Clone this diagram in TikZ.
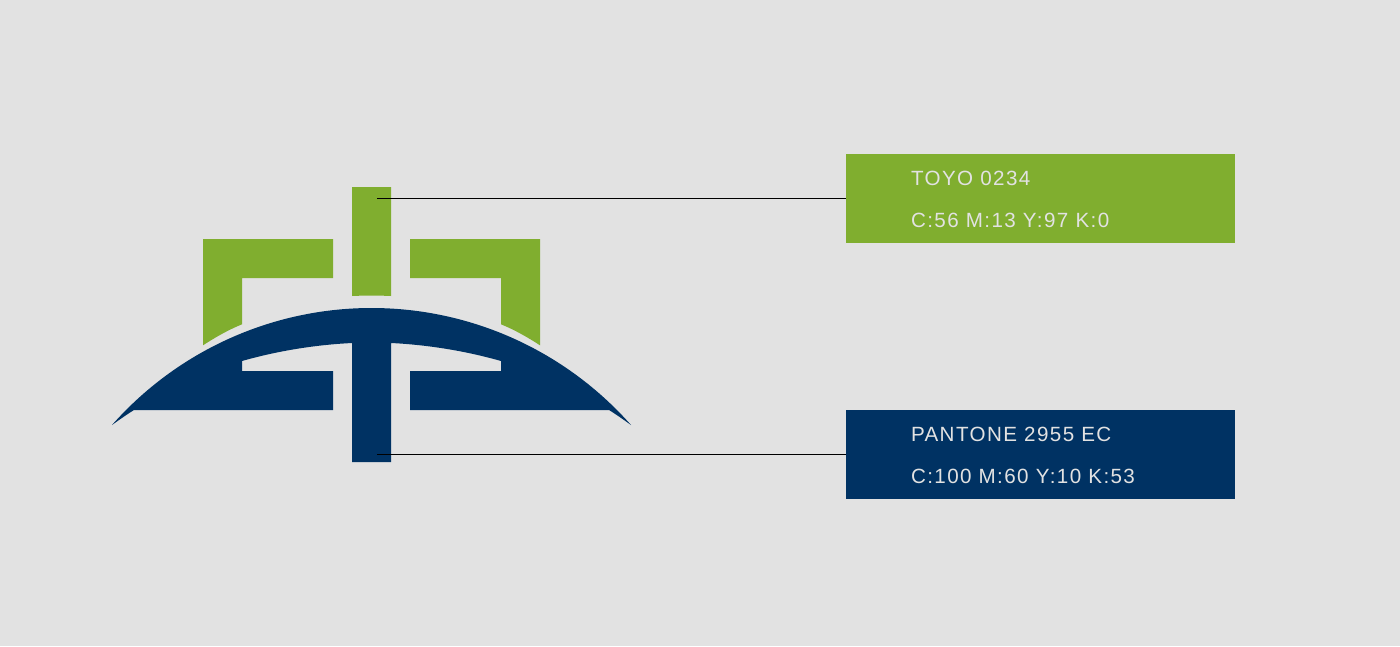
\documentclass[tikz,border=0pt]{standalone}
\usepackage{fontspec}
\newfontfamily\swatchfont[LetterSpace=6.8]{Liberation Sans}
\tikzset{
  swatchbox/.style={inner sep=0, outer sep=0, minimum width=389pt, minimum height=89pt, anchor=north west},
  swatchtext/.style={inner sep=0, outer sep=0, custcol_e2_e2_e2, anchor=base west, font=\fontsize{20.6pt}{20.6pt}\swatchfont},
  leader/.style={line width=1.0pt, custcol_0_0_0}
}
\begin{document}
\begin{tikzpicture}[x=1pt,y=-1pt]
\useasboundingbox (0,0) rectangle (1400,646);
\definecolor{custcol_0_0_0}{RGB}{0, 0, 0}
\definecolor{custcol_e2_e2_e2}{RGB}{226, 226, 226}
\definecolor{custcol_80_ae_2f}{RGB}{128, 174, 47}
\definecolor{custcol_0_32_63}{RGB}{0, 50, 99}
\fill [custcol_e2_e2_e2]  (0,0) rectangle (1400,646);
% green mark
\fill [custcol_80_ae_2f]  (352,187) -- (391,187) -- (391,296) .. controls (378,295.4) and (365,295.4) .. (352,296) -- cycle;
\fill [custcol_80_ae_2f]  (203,239) -- (333,239) -- (333,278) -- (242,278) -- (242,324.3) .. controls (228,330) and (215,337.5) .. (203,345.3) -- cycle;
\fill [custcol_80_ae_2f]  (540,239) -- (410,239) -- (410,278) -- (501,278) -- (501,324.3) .. controls (515,330) and (528,337.5) .. (540,345.3) -- cycle;
% blue mark
\fill [custcol_0_32_63]  (112,425) .. controls (177.8,350.6) and (272.2,308) .. (371.5,308)
  .. controls (470.8,308) and (565.2,350.6) .. (631,425)
  .. controls (624,420) and (617,415) .. (609,410) -- (410,410) -- (410,371) -- (501,371) -- (501,361)
  .. controls (466,351) and (428,344.8) .. (391,343) -- (391,462) -- (352,462) -- (352,343)
  .. controls (315,344.8) and (277,351) .. (242,361) -- (242,371) -- (333,371) -- (333,410) -- (134,410)
  .. controls (126,415) and (119,420) .. (112,425) -- cycle;
% swatches
\node[swatchbox, fill=custcol_80_ae_2f] (greenbox) at (846,154) {};
\node[swatchbox, fill=custcol_0_32_63] (bluebox) at (846,410) {};
\node[swatchtext] (greenname) at (911,185) {TOYO 0234};
\node[swatchtext] (greencmyk) at (911,227) {C:56 M:13 Y:97 K:0};
\node[swatchtext] (bluename) at (911,441) {PANTONE 2955 EC};
\node[swatchtext] (bluecmyk) at (911,483) {C:100 M:60 Y:10 K:53};
% leaders
\coordinate (greentap) at (377,198.5);
\coordinate (bluetap) at (377,454.5);
\draw [leader]  (greentap) -- (greenbox.west);
\draw [leader]  (bluetap) -- (bluebox.west);
\end{tikzpicture}
\end{document}
